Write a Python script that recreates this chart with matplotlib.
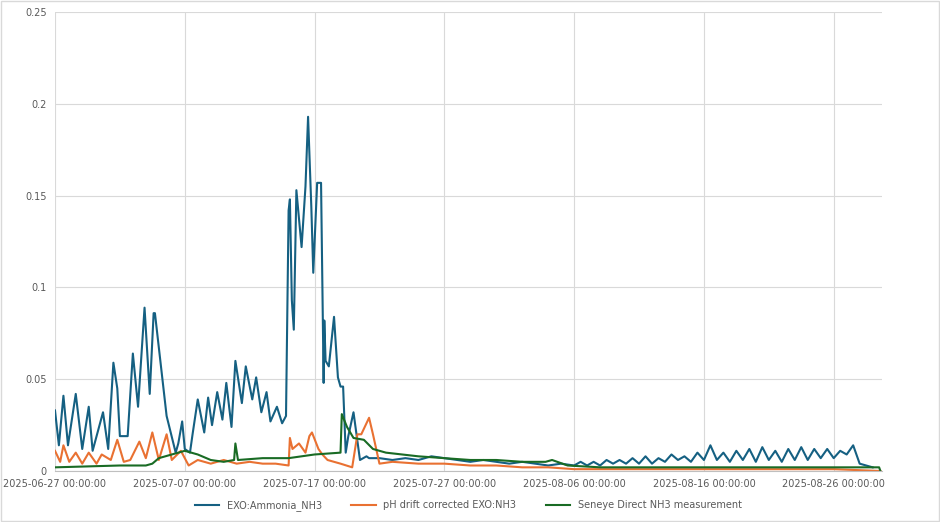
import matplotlib
matplotlib.use("Agg")
import matplotlib.pyplot as plt
import matplotlib.dates as mdates
import datetime as dt

START = dt.datetime(2025, 6, 27)

# EXO:Ammonia_NH3 (day offset, value)
blue_days = [0.0,0.3,0.65,1.0,1.6,2.1,2.6,2.9,3.7,4.1,4.5,4.8,5.0,5.6,6.0,6.4,6.9,7.3,7.6,7.7,8.2,8.6,9.3,9.5,9.8,10.0,10.4,10.6,11.0,11.5,11.8,12.1,12.5,12.9,13.2,13.6,13.9,14.4,14.7,15.2,15.5,15.9,16.3,16.6,17.1,17.5,17.8,18.0,18.1,18.25,18.4,18.6,19.0,19.3,19.5,19.75,19.9,20.2,20.5,20.7,20.75,20.85,21.1,21.5,21.8,22.0,22.2,22.4,22.6,23.0,23.5,24.0,24.2,25,26,27,28,29,30,31,32,33,34,35,36,37,38,39]
blue_vals = [0.033,0.014,0.041,0.014,0.042,0.012,0.035,0.011,0.032,0.012,0.059,0.045,0.019,0.019,0.064,0.035,0.089,0.042,0.086,0.086,0.055,0.030,0.010,0.015,0.027,0.012,0.010,0.020,0.039,0.021,0.040,0.025,0.043,0.028,0.048,0.024,0.060,0.037,0.057,0.039,0.051,0.032,0.043,0.027,0.035,0.026,0.030,0.142,0.148,0.093,0.077,0.153,0.122,0.155,0.193,0.144,0.108,0.157,0.157,0.048,0.082,0.060,0.057,0.084,0.051,0.046,0.046,0.010,0.019,0.032,0.006,0.008,0.007,0.007,0.006,0.007,0.006,0.008,0.007,0.006,0.005,0.006,0.005,0.004,0.005,0.004,0.003,0.004]
blue_late = [0.003,0.005,0.003,0.005,0.003,0.006,0.004,0.006,0.004,0.007,0.004,0.008,0.004,0.007,0.005,0.009,0.006,0.008,0.005,0.010,0.006,0.014,0.006,0.010,0.005,0.011,0.006,0.012,0.005,0.013,0.006,0.011,0.005,0.012,0.006,0.013,0.006,0.012,0.007,0.012,0.007,0.011,0.009,0.014,0.004,0.003,0.002]

# pH drift corrected EXO:NH3
orange_days = [0.0,0.4,0.65,1.1,1.6,2.1,2.6,3.2,3.6,4.3,4.8,5.3,5.8,6.5,7.0,7.5,8.0,8.6,9.0,9.7,10.3,11,12,13,14,15,16,17,18.0,18.1,18.3,18.8,19.3,19.6,19.8,20.3,20.6,21.0,22.0,22.9,23.3,23.6,24.2,24.5,25,26,28,30,32,34,36,38,40,45,50,55,60,63.6]
orange_vals = [0.011,0.005,0.014,0.005,0.010,0.004,0.010,0.004,0.009,0.006,0.017,0.005,0.006,0.016,0.007,0.021,0.006,0.020,0.006,0.011,0.003,0.006,0.004,0.006,0.004,0.005,0.004,0.004,0.003,0.018,0.012,0.015,0.010,0.019,0.021,0.012,0.009,0.006,0.004,0.002,0.020,0.020,0.029,0.020,0.004,0.005,0.004,0.004,0.003,0.003,0.002,0.002,0.001,0.001,0.001,0.001,0.001,0.000]

# Seneye Direct NH3 measurement
green_days = [0.0,5.0,7.0,7.5,8.0,9.5,10.0,11.0,12.0,13.0,13.8,13.9,14.1,16,18,20,22.0,22.1,22.5,23.0,23.8,24.5,25.5,28,30,32,34,36,37.8,38.3,39.5,42,50,55,60,63.5,63.6]
green_vals = [0.002,0.003,0.003,0.004,0.007,0.010,0.011,0.009,0.006,0.005,0.006,0.015,0.006,0.007,0.007,0.009,0.010,0.031,0.024,0.018,0.017,0.012,0.010,0.008,0.007,0.006,0.006,0.005,0.005,0.006,0.003,0.002,0.002,0.002,0.002,0.002,0.000]

def to_dates(days):
    return [START + dt.timedelta(days=float(d)) for d in days]

bd = list(blue_days) + [40 + 0.5 * i for i in range(len(blue_late))]
bv = list(blue_vals) + blue_late

fig = plt.figure(figsize=(9.4, 5.22), dpi=100)
ax = fig.add_axes([0.0585, 0.0977, 0.8795, 0.879])
ax.plot(to_dates(bd), bv, color="#156082", lw=1.5, label="EXO:Ammonia_NH3")
ax.plot(to_dates(orange_days), orange_vals, color="#E97132", lw=1.5, label="pH drift corrected EXO:NH3")
ax.plot(to_dates(green_days), green_vals, color="#196B24", lw=1.5, label="Seneye Direct NH3 measurement")

ax.set_ylim(0, 0.25)
ax.set_yticks([0, 0.05, 0.1, 0.15, 0.2, 0.25])
ax.set_yticklabels(["0", "0.05", "0.1", "0.15", "0.2", "0.25"])
ax.set_xlim(START, START + dt.timedelta(days=63.7))
ax.set_xticks(to_dates([0, 10, 20, 30, 40, 50, 60]))
ax.xaxis.set_major_formatter(mdates.DateFormatter("%Y-%m-%d %H:%M:%S"))
ax.grid(True, color="#D9D9D9", lw=0.8)
ax.set_axisbelow(True)
for s in ["top", "right", "left"]:
    ax.spines[s].set_visible(False)
ax.spines["bottom"].set_color("#BFBFBF")
ax.tick_params(length=0, labelsize=7, colors="#595959", pad=6)
ax.legend(loc="upper center", bbox_to_anchor=(0.5, -0.045), ncol=3, frameon=False,
          fontsize=7, labelcolor="#595959", handlelength=2.5, columnspacing=3)
fig.patches.append(plt.Rectangle((0.001, 0.001), 0.998, 0.998, transform=fig.transFigure,
                                 fill=False, ec="#D9D9D9", lw=1))
fig.savefig("out.png", dpi=100)
